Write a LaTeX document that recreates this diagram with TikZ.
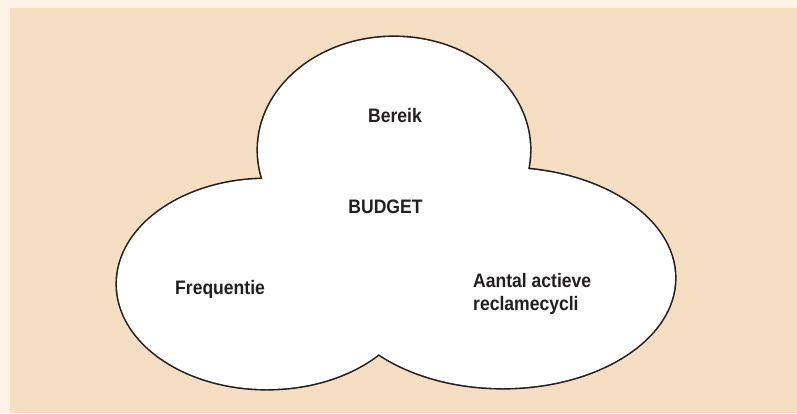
\documentclass[tikz,border=0pt]{standalone}
\usepackage{fontspec}
\setmainfont{Liberation Sans}[FakeStretch=0.9]
\definecolor{rand}{HTML}{FEF3E7}
\definecolor{vlak}{HTML}{F6DEC2}
\definecolor{inkt}{HTML}{231F20}
\begin{document}
\begin{tikzpicture}[x=1pt,y=-1pt] % pixel coordinates, y going down
\tikzstyle{wolk} = [draw=inkt, line width=3.2pt] % outline pass of a blob
\tikzstyle{wolkvul} = [fill=white] % fill pass, covers the inner half of the outline
\tikzstyle{label} = [inner sep=0pt, text=inkt, font=\bfseries\fontsize{19.5}{23}\selectfont] % text in the cloud
\useasboundingbox (0,0) rectangle (797,413);
\fill[rand] (0,0) rectangle (797,413);
\fill[vlak] (10,8) rectangle (797,413);
% centres of the three blobs
\coordinate (boven) at (394,150);
\coordinate (links) at (267,284);
\coordinate (rechts) at (503,278);
% first the thick outlines, then the white fill on top
\draw[wolk] (boven) ellipse [x radius=136, y radius=113];
\draw[wolk] (links) ellipse [x radius=150, y radius=105];
\draw[wolk] (rechts) ellipse [x radius=172, y radius=110];
\fill[wolkvul] (boven) ellipse [x radius=136, y radius=113];
\fill[wolkvul] (links) ellipse [x radius=150, y radius=105];
\fill[wolkvul] (rechts) ellipse [x radius=172, y radius=110];
% labels
\node[label, anchor=base] (bereik) at (395,122) {Bereik};
\node[label, anchor=base] (budget) at (385.5,213) {BUDGET};
\node[label, anchor=base west] (frequentie) at (175,294) {Frequentie};
\node[label, anchor=base west, align=left] (cycli) at (473,310) {Aantal actieve\\reclamecycli};
\end{tikzpicture}
\end{document}
